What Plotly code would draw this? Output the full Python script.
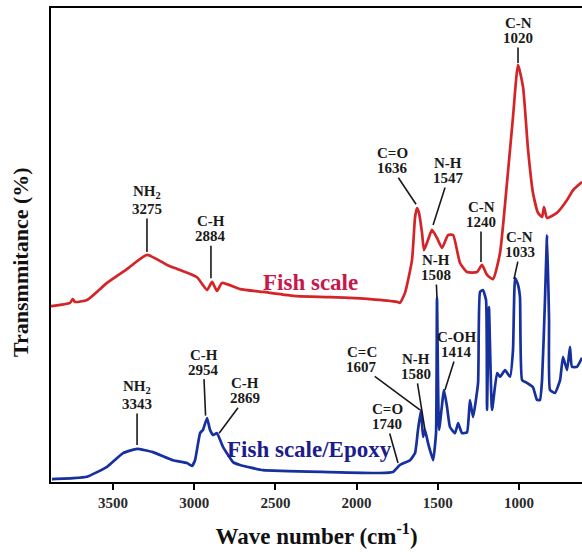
import plotly.graph_objects as go

# ---- Data ----
wn_fish = [3882, 3765, 3748, 3735, 3660, 3537, 3414, 3291, 3167, 3087, 2983, 2921, 2890, 2860, 2829,
           2718, 2576, 2367, 2164, 1917, 1751, 1733, 1702, 1659, 1640, 1628, 1616, 1597, 1585, 1560,
           1536, 1505, 1474, 1437, 1406, 1363, 1320, 1258, 1228, 1197, 1160, 1117, 1074, 1037, 1006,
           975, 944, 914, 883, 858, 846, 827, 766, 704, 667, 612]
t_fish = [37.1, 37.8, 38.6, 38.0, 38.4, 42.0, 44.9, 47.9, 45.8, 44.7, 43.2, 40.5, 42.2, 40.3, 42.0,
          40.7, 40.1, 39.2, 39.0, 38.6, 38.0, 37.8, 39.9, 46.8, 55.9, 57.8, 56.8, 52.5, 48.9, 51.1,
          53.2, 51.5, 49.4, 52.1, 52.1, 46.2, 44.3, 44.3, 45.8, 43.7, 42.8, 48.3, 63.1, 77.0, 88.0,
          83.3, 70.0, 61.0, 56.8, 55.9, 58.0, 55.7, 56.8, 59.5, 61.6, 63.3]

wn_epoxy = [3876, 3746, 3660, 3537, 3438, 3352, 3254, 3131, 3044, 3014, 2995, 2964, 2946, 2921, 2903,
            2884, 2860, 2823, 2761, 2718, 2576, 2164, 1856, 1776, 1733, 1671, 1640, 1622, 1603, 1591,
            1579, 1560, 1529, 1511, 1505, 1492, 1462, 1443, 1425, 1394, 1375, 1351, 1320, 1302, 1283,
            1252, 1240, 1222, 1203, 1197, 1185, 1166, 1135, 1117, 1086, 1055, 1037, 1024, 1006, 994,
            981, 951, 914, 889, 871, 858, 840, 827, 815, 809, 778, 747, 729, 704, 686, 674, 643, 612]
t_epoxy = [0.6, 0.8, 1.1, 3.2, 6.1, 7.0, 6.3, 4.6, 4.0, 3.4, 4.6, 10.3, 11.0, 13.5, 11.0,
           9.9, 10.3, 7.4, 4.2, 3.6, 2.5, 2.1, 1.9, 2.1, 3.6, 4.6, 6.1, 11.0, 15.2, 9.5,
           11.0, 8.2, 4.6, 10.3, 38.8, 11.0, 19.4, 15.8, 11.6, 10.3, 12.4, 10.3, 10.5, 17.3, 13.7,
           20.9, 40.1, 40.5, 38.4, 15.2, 36.9, 15.2, 23.0, 22.2, 23.6, 22.2, 27.8, 43.0, 41.6, 39.0,
           21.5, 20.9, 20.0, 17.3, 17.3, 21.5, 38.4, 52.1, 34.2, 19.4, 18.8, 21.5, 26.4, 23.6, 28.5,
           24.3, 24.3, 26.2]

series_names = ["Fish scale", "Fish scale/Epoxy"]
x_ticks = [3500, 3000, 2500, 2000, 1500, 1000]

peak_names = ["NH<sub>2</sub>", "C-H", "C=O", "N-H", "C-N", "C-N",
              "N-H", "C-N", "C-OH", "N-H", "C=C", "C=O", "NH<sub>2</sub>", "C-H", "C-H"]
peak_numbers = ["3275", "2884", "1636", "1547", "1240", "1020",
                "1508", "1033", "1414", "1580", "1607", "1740", "3343", "2954", "2869"]
peak_wn = [3291, 2897, 1634, 1529, 1234, 1006, 1505, 1031, 1456, 1579, 1610, 1745, 3352, 2930, 2847]
peak_t = [48.5, 43.0, 58.6, 54.2, 46.4, 88.4, 38.8, 42.8, 19.4, 11.0, 15.2, 4.0, 7.8, 14.0, 10.3]

# label offsets (pixels) of the number text relative to the leader tip
label_offsets = [(0, -43), (0, -42), (-24, -36), (15, -47), (0, -40), (0, -25),
                 (-1, -23), (6, -27), (12, -38), (-9, -56), (-58, -43), (-11, -39),
                 (0, -41), (-2, -46), (26, -35)]

SERIF = "Liberation Serif"
RED = "#d42428"
BLUE = "#16309e"
LBL = dict(family=SERIF, size=15, color="#1a1a1a", weight="bold")

fig = go.Figure()
fig.add_trace(go.Scatter(x=wn_fish, y=t_fish, mode="lines", name=series_names[0],
                         line=dict(color=RED, width=2.7, shape="spline", smoothing=0.5)))
fig.add_trace(go.Scatter(x=wn_epoxy, y=t_epoxy, mode="lines", name=series_names[1],
                         line=dict(color=BLUE, width=2.7, shape="spline", smoothing=0.4)))

annos = []
for nm, num, xw, yt, (ax, ay) in zip(peak_names, peak_numbers, peak_wn, peak_t, label_offsets):
    gap = 17 if "<sub>" in nm else 15
    annos.append(dict(x=xw, y=yt, xref="x", yref="y", text=num, showarrow=True,
                      ax=ax, ay=ay, arrowhead=0, arrowwidth=1.6, arrowcolor="#1a1a1a",
                      standoff=0, font=LBL))
    annos.append(dict(x=xw, y=yt, xref="x", yref="y", text=nm, showarrow=False,
                      xshift=ax, yshift=gap - ay, font=LBL))

annos.append(dict(x=2287, y=42.0, xref="x", yref="y", text=series_names[0], showarrow=False,
                  font=dict(family=SERIF, size=23, color="#c8174a", weight="bold")))
annos.append(dict(x=2290, y=6.8, xref="x", yref="y", text=series_names[1], showarrow=False,
                  font=dict(family=SERIF, size=23, color="#1c1c8a", weight="bold")))
# y-axis title placed as rotated text (paper coords are relative to the plot area)
annos.append(dict(x=(20 - 51) / 531, y=(482 - 262) / 474, xref="paper", yref="paper",
                  text="Transmmitance (%)",
                  showarrow=False, textangle=-90, xanchor="center", yanchor="middle",
                  font=dict(family=SERIF, size=22, color="#111", weight="bold")))

fig.update_layout(
    width=582, height=555,
    margin=dict(l=51, r=0, t=8, b=73),
    plot_bgcolor="white", paper_bgcolor="white",
    showlegend=False,
    annotations=annos,
    xaxis=dict(range=[3882, 612], showline=True, linecolor="black", linewidth=2, mirror=True,
               ticks="outside", ticklen=6, tickwidth=2, tickcolor="black",
               tickvals=x_ticks, ticktext=[str(v) for v in x_ticks],
               tickfont=dict(family=SERIF, size=15, color="#2a2a2a", weight="bold"),
               showgrid=False, zeroline=False,
               title=dict(text="Wave number (cm<sup>-1</sup>)", standoff=18,
                          font=dict(family=SERIF, size=23, color="#111", weight="bold"))),
    yaxis=dict(range=[0, 100], showline=True, linecolor="black", linewidth=2, mirror=False,
               ticks="", showticklabels=False, showgrid=False, zeroline=False),
)

fig.write_html("out.html")
